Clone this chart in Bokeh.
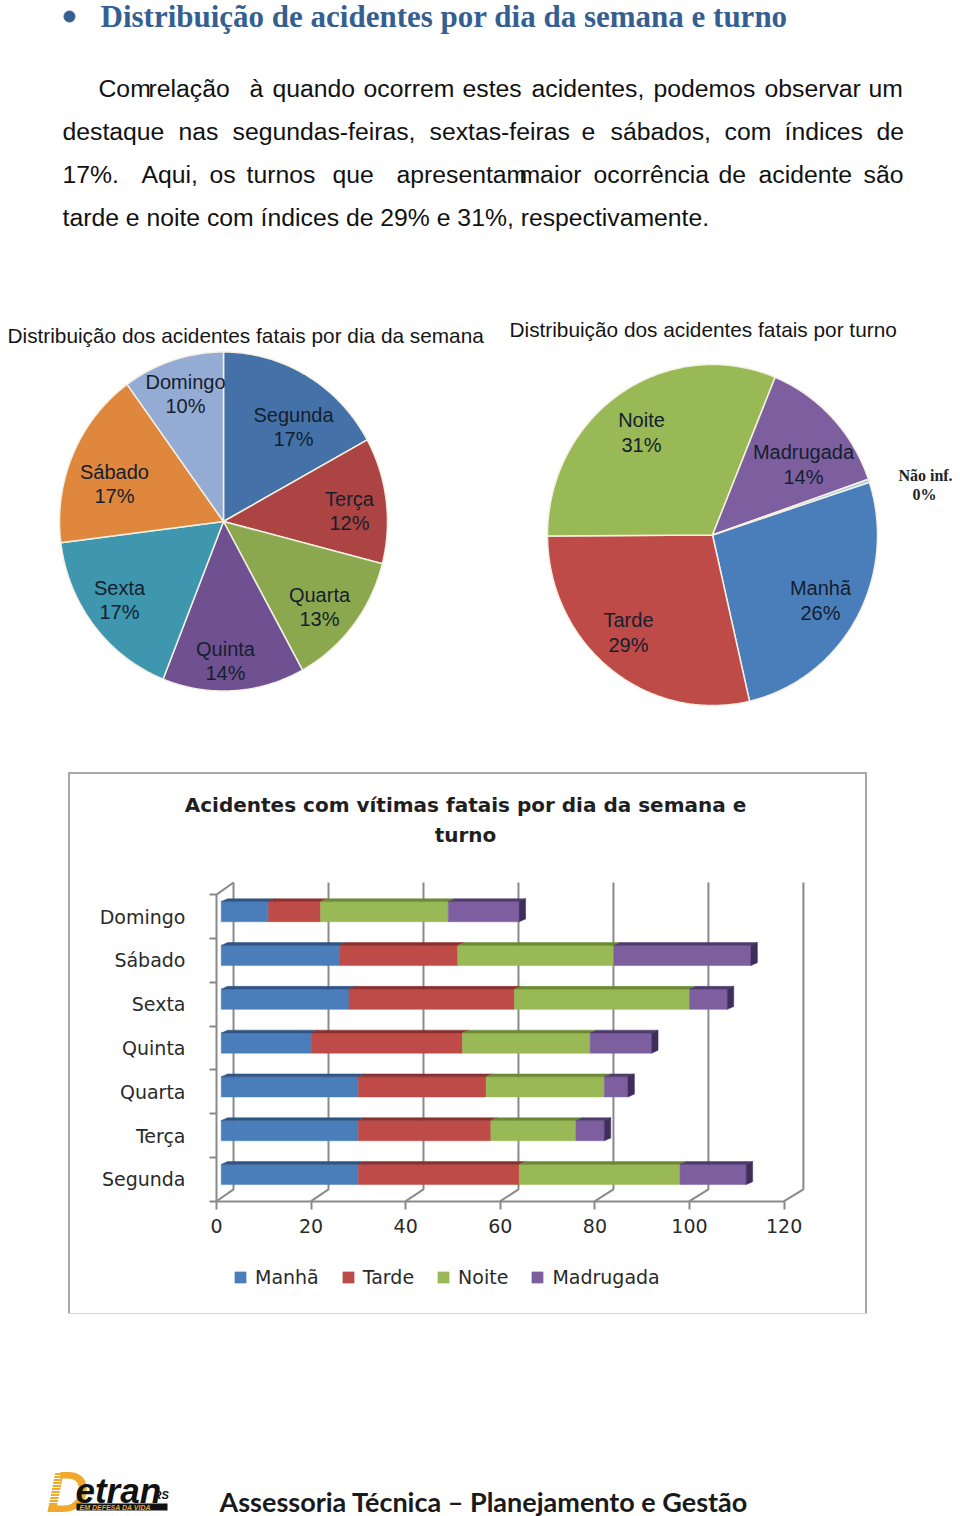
import numpy as np
from bokeh.core.properties import value
from bokeh.embed import file_html
from bokeh.layouts import column, row
from bokeh.models import (FixedTicker, Legend, LegendItem, Range1d)
from bokeh.plotting import figure
from bokeh.resources import INLINE

# ---- data ----
day_names = ["Segunda", "Terça", "Quarta", "Quinta", "Sexta", "Sábado", "Domingo"]
day_share = [17, 12, 13, 14, 17, 17, 10]
day_colors = ["#4472A8", "#AB4442", "#8CA84E", "#6F5191", "#3E97AE", "#DF873C", "#94ACD3"]

shift_names = ["Manhã", "Tarde", "Noite", "Madrugada", "Não inf."]
shift_share = [26.4, 28.5, 31.3, 13.5, 0.3]
shift_labels = ["26%", "29%", "31%", "14%", "0%"]
shift_colors = ["#4A7EBB", "#BE4B48", "#98B955", "#7D5FA0", "#A5C8E8"]

manha = [29, 29, 29, 19, 27, 25, 10]
tarde = [34, 28, 27, 32, 35, 25, 11]
noite = [34, 18, 25, 27, 37, 33, 27]
madrugada = [14, 6, 5, 13, 8, 29, 15]
series_names = ["Manhã", "Tarde", "Noite", "Madrugada"]
series_colors = ["#4A7EBB", "#BE4B48", "#98B955", "#7D5FA0"]
series_tops = ["#2F5583", "#8A302E", "#6C8A35", "#4F3A6E"]
x_ticks = [0, 20, 40, 60, 80, 100, 120]

SANS = "Liberation Sans"


def canvas(x0, x1, y0, y1):
    """A figure whose data ranges are page pixels."""
    p = figure(width=x1 - x0, height=y1 - y0, output_backend="svg", toolbar_location=None,
               x_range=Range1d(x0, x1), y_range=Range1d(y1, y0), min_border=0)
    p.axis.visible = False
    p.grid.visible = False
    p.outline_line_color = None
    return p


def txt(p, x, y, s, size, color="#000000", style="normal", font=SANS, align="left"):
    p.text([x], [y], text=[s], text_font=value(font), text_font_size=f"{size}px",
           text_font_style=style, text_color=color, text_align=align, text_baseline="middle")


# ---- header ----
head = canvas(0, 960, 0, 280)
head.scatter([69], [16], size=11, color="#365F91")
txt(head, 100, 16, "Distribuição de acidentes por dia da semana e turno", 31, "#365F91", "bold",
    "Liberation Serif")
lines = [
    (88, ["Com", "relação", "à", "quando", "ocorrem", "estes", "acidentes,", "podemos", "observar", "um"],
     [98, 148, 249, 272, 363, 462, 531, 653, 764, 868]),
    (131, ["destaque", "nas", "segundas-feiras,", "sextas-feiras", "e", "sábados,", "com", "índices", "de"],
     [62, 178, 232, 429, 581, 610, 724, 784, 876]),
    (174, ["17%.", "Aqui,", "os", "turnos", "que", "apresentam", "maior", "ocorrência", "de", "acidente", "são"],
     [62, 141, 209, 246, 332, 396, 519, 593, 718, 758, 863]),
]
for y, words, xs in lines:
    for w, x in zip(words, xs):
        txt(head, x, y, w, 24.75, "#111111")
txt(head, 62, 217, "tarde e noite com índices de 29% e 31%, respectivamente.", 24.75, "#111111")


# ---- pies ----
def pie(p, shares, colors, cx, cy, rx, ry, start):
    edges = start + np.cumsum([0] + list(shares)) * 3.6
    for a, b, c in zip(edges[:-1], edges[1:], colors):
        t = np.radians(np.linspace(a, b, max(int(b - a) * 2, 3)))
        xs = np.r_[cx, cx + rx * np.sin(t)]
        ys = np.r_[cy, cy - ry * np.cos(t)]
        p.patch(xs, ys, fill_color=c, line_color="#F4F0E4", line_width=1.5)


left = canvas(0, 490, 280, 740)
txt(left, 7, 335, "Distribuição dos acidentes fatais por dia da semana", 20.8, "#151515")
pie(left, day_share, day_colors, 223, 521, 164, 169.5, 0)
day_pos = [(293, 414), (349, 498), (319, 594), (225, 648), (119, 587), (114, 471), (185, 381)]
for n, s, (x, y) in zip(day_names, day_share, day_pos):
    txt(left, x, y, n, 20, "#14202E", align="center")
    txt(left, x, y + 24, f"{s}%", 20, "#14202E", align="center")

right = canvas(490, 960, 280, 740)
txt(right, 509, 329, "Distribuição dos acidentes fatais por  turno", 20.8, "#151515")
pie(right, shift_share, shift_colors, 712, 534.5, 165, 170.5, 72)
shift_pos = [(820, 587), (628, 619), (641, 419), (803, 451)]
for n, s, (x, y) in zip(shift_names, shift_labels, shift_pos):
    txt(right, x, y, n, 20, "#14202E", align="center")
    txt(right, x, y + 25, s, 20, "#14202E", align="center")
txt(right, 925, 475, shift_names[4], 16, "#222222", "bold", "Liberation Serif", "center")
txt(right, 924, 494, shift_labels[4], 16, "#222222", "bold", "Liberation Serif", "center")

# ---- stacked bars with a drawn 3-D look ----
BOX_L, BOX_R, BOX_T, BOX_B = 70, 865, 774, 1313
ZERO_X, X_SCALE = 216, 4.73
ROW = 43.8
AXIS_Y = 1200.7
bar = figure(width=BOX_R - BOX_L, height=BOX_B - BOX_T, output_backend="svg", toolbar_location=None,
             x_range=Range1d((BOX_L - ZERO_X) / X_SCALE, (BOX_R - ZERO_X) / X_SCALE),
             y_range=Range1d((AXIS_Y - BOX_B) / ROW, (AXIS_Y - BOX_T) / ROW),
             min_border=0, margin=(BOX_T - 740, 0, 0, BOX_L),
             styles={"outline": "2px solid #A8A8A8"})
bar.outline_line_color = None
bar.grid.visible = False

AXIS_GREY = "#8A8A8A"
ax = bar.xaxis[0]
ax.fixed_location = 0
ax.ticker = FixedTicker(ticks=x_ticks)
ax.bounds = (0, 120)
ax.axis_line_color = AXIS_GREY
ax.axis_line_width = 2
ax.major_tick_line_color = AXIS_GREY
ax.major_tick_line_width = 2
ax.major_tick_out = 8
ax.major_tick_in = 0
ax.minor_tick_line_color = None
ax.major_label_standoff = 10
ax.major_label_text_font = "DejaVu Sans"
ax.major_label_text_font_size = "19px"
ax.major_label_text_color = "#2A2A2A"

ay = bar.yaxis[0]
ay.fixed_location = 0
centers = [i + 0.5 for i in range(len(day_names))]
ay.ticker = FixedTicker(ticks=centers, minor_ticks=list(range(len(day_names) + 1)))
ay.major_label_overrides = {c: n for c, n in zip(centers, day_names)}
ay.bounds = (0, len(day_names))
ay.axis_line_color = AXIS_GREY
ay.axis_line_width = 2
ay.major_tick_line_color = None
ay.major_tick_out = 0
ay.major_tick_in = 0
ay.minor_tick_line_color = AXIS_GREY
ay.minor_tick_line_width = 2
ay.minor_tick_out = 7
ay.minor_tick_in = 0
ay.major_label_standoff = 24
ay.major_label_text_font = "DejaVu Sans"
ay.major_label_text_font_size = "19px"
ay.major_label_text_color = "#2A2A2A"

# back wall and floor
depth_x, depth_y = 3.6, 0.27
top = (AXIS_Y - 882) / ROW
for v in x_ticks:
    back = v * 1.004 + depth_x
    bar.line([v, back, back], [0, depth_y, top], line_color=AXIS_GREY, line_width=2)
bar.line([0, depth_x], [len(day_names), top], line_color=AXIS_GREY, line_width=2)

# bars
bar_dx, bar_dy, bar_h = 1.0, 0.11, 0.46
face_x, face_y = 1.35, 0.065
ys = np.array(centers) + bar_dy
base = np.zeros(len(day_names))
legend_items = []
stack = [manha, tarde, noite, madrugada]
for name, vals, col, tcol in zip(series_names, stack, series_colors, series_tops):
    lefts, rights = base + bar_dx, base + np.array(vals) + bar_dx
    r = bar.hbar(y=ys, left=lefts, right=rights, height=bar_h, fill_color=col, line_color=col, line_width=0.5)
    for l, rr, y in zip(lefts, rights, ys):
        bar.patch([l, l + face_x, rr + face_x, rr],
                  [y + bar_h / 2, y + bar_h / 2 + face_y, y + bar_h / 2 + face_y, y + bar_h / 2],
                  fill_color=tcol, line_color=tcol, line_width=0.5)
    legend_items.append(LegendItem(label=name, renderers=[r]))
    base = base + np.array(vals)
for end, y in zip(base + bar_dx, ys):
    bar.patch([end, end + face_x, end + face_x, end],
              [y + bar_h / 2, y + bar_h / 2 + face_y, y - bar_h / 2 + face_y, y - bar_h / 2],
              fill_color="#3F2D5C", line_color="#3F2D5C", line_width=0.5)

# chart title
for line, py in (("Acidentes com vítimas fatais por dia da semana e", 804), ("turno", 834)):
    bar.text([(465 - ZERO_X) / X_SCALE], [(AXIS_Y - py) / ROW], text=[line],
             text_font=value("DejaVu Sans"), text_font_size="20px", text_font_style="bold",
             text_color="#1F1F1F", text_align="center", text_baseline="middle")

legend = Legend(items=legend_items, orientation="horizontal", location=(163, 25), border_line_color=None,
                background_fill_color=None, background_fill_alpha=0, label_text_font="DejaVu Sans",
                label_text_font_size="19px", label_text_color="#2A2A2A", glyph_width=14, glyph_height=14,
                spacing=22, padding=0, label_standoff=8, margin=0)
bar.add_layout(legend, "center")

# ---- footer ----
foot = canvas(0, 960, 1313, 1516)
# logo
stripe_y = [1472 + 3 * i for i in range(11)]
foot.text([46], [1491], text=["D"], text_font=value(SANS), text_font_size="58px",
          text_font_style="bold italic", text_color="#F0A92B", text_align="left", text_baseline="middle")
foot.segment([38] * len(stripe_y), stripe_y, [60] * len(stripe_y), stripe_y, line_color="#FFFFFF", line_width=1)
txt(foot, 75, 1490, "etran", 35, "#111111", "bold italic")
txt(foot, 153, 1494, "RS", 11, "#111111", "bold italic")
foot.quad(left=[76], right=[167], top=[1510], bottom=[1503], fill_color="#111111", line_color=None)
txt(foot, 79, 1506.5, "EM DEFESA DA VIDA", 7, "#E8A93A", "bold italic")
txt(foot, 219, 1501, "Assessoria Técnica – Planejamento e Gestão", 27, "#1A1A1A", "bold", "Lato")

page = column(head, row(left, right), bar, foot, spacing=0)
open("out.html", "w").write(file_html(page, INLINE))
